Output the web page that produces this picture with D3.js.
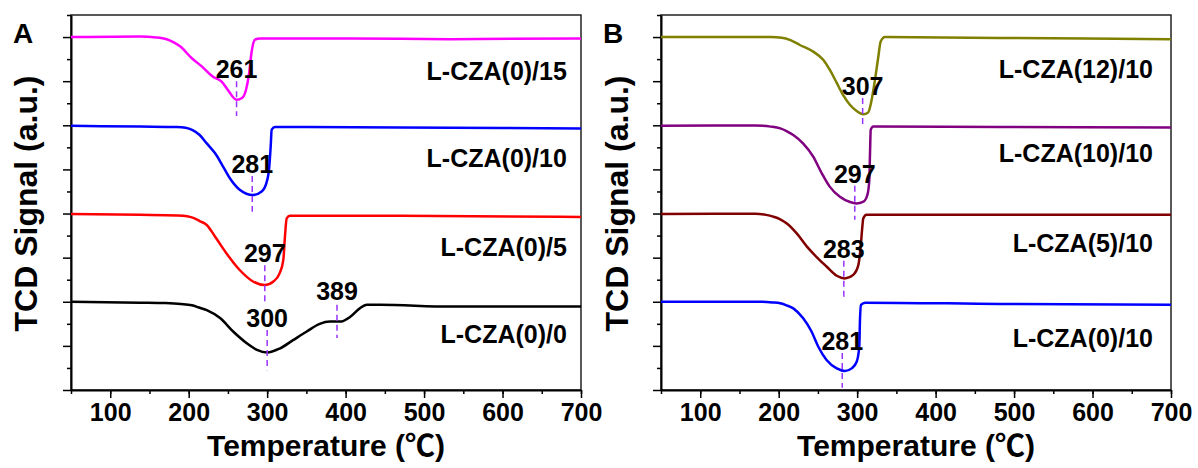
<!DOCTYPE html>
<html>
<head>
<meta charset="utf-8">
<script src="https://cdn.jsdelivr.net/npm/d3@7"></script>
<style>
body { margin: 0; background: #fff; }
text { font-family: "Liberation Sans", Arial, "Noto Sans CJK SC", sans-serif; font-weight: bold; fill: #000; }
</style>
</head>
<body>
<div id="chart"></div>
<script>
// Data: [temperature (C), TCD signal (a.u., offset per curve)]
const czaA15 = [[50,8.0],[138,8.01],[152,8.0],[163,7.985],[172,7.95],[181,7.88],[189,7.79],[204,7.52],[217,7.33],[231,7.10],[242,6.99],[250,6.80],[261,6.58],[268,6.62],[273,6.80],[277,7.18],[280,7.64],[284.5,7.94],[291,7.97],[406,7.97],[533,7.95],[700,7.97]];
const czaA10 = [[50,5.99],[138,5.97],[185,5.96],[196,5.945],[205,5.89],[214,5.78],[223,5.59],[233.5,5.37],[244,5.06],[252.5,4.80],[265,4.54],[282,4.42],[293,4.50],[299,4.69],[302.7,5.06],[304.5,5.52],[305.8,5.90],[310,5.96],[469,5.95],[700,5.93]];
const czaA5 = [[50,3.99],[138,3.97],[185,3.955],[198,3.94],[206,3.90],[214,3.83],[223,3.74],[233.5,3.48],[248,3.10],[265,2.72],[282,2.46],[297,2.38],[308,2.46],[316,2.65],[320.6,2.95],[322.7,3.48],[324.9,3.89],[329,3.95],[469,3.95],[700,3.92]];
const czaA0 = [[50,2.0],[138,1.98],[170,1.97],[190,1.95],[204,1.92],[213,1.87],[223,1.81],[240,1.63],[257,1.32],[274,1.06],[287,0.91],[300,0.85],[316,0.94],[333,1.13],[350,1.32],[367,1.50],[380,1.55],[393,1.55],[406,1.66],[418,1.85],[427,1.93],[444,1.93],[533,1.89],[700,1.89]];

const czaB12 = [[50,8.0],[190,8.0],[204,7.985],[215,7.93],[227,7.82],[244,7.67],[257,7.48],[265,7.26],[274,6.96],[282,6.69],[291,6.46],[299,6.33],[307.8,6.25],[314,6.29],[318.5,6.58],[322.7,7.03],[327,7.56],[330,7.90],[335.5,8.0],[482,7.98],[700,7.95]];
const czaB10 = [[50,5.99],[170,5.995],[190,5.97],[202,5.93],[210,5.87],[218.6,5.78],[231,5.59],[244,5.29],[255,4.91],[265,4.61],[278,4.38],[291,4.26],[299,4.23],[308,4.27],[313,4.42],[315.5,4.76],[316.4,5.37],[317.3,5.90],[320.6,5.97],[482,5.96],[700,5.95]];
const czaB5 = [[50,3.99],[170,3.995],[184,3.97],[193,3.93],[202,3.87],[210,3.78],[223,3.55],[236,3.25],[248,3.02],[261,2.80],[274,2.59],[284,2.53],[295,2.61],[301.5,2.83],[304.5,3.25],[306.6,3.70],[307.8,3.89],[312,3.97],[482,3.97],[700,3.97]];
const czaB0 = [[50,2.0],[176,2.0],[192,1.985],[202,1.965],[210,1.92],[218.6,1.85],[231,1.63],[242,1.32],[250.5,0.98],[261,0.68],[274,0.49],[284.5,0.43],[293,0.49],[299.4,0.64],[302.7,0.98],[303.6,1.59],[304.9,1.93],[310,1.98],[482,1.95],[700,1.93]];

const labelsA = ["L-CZA(0)/15", "L-CZA(0)/10", "L-CZA(0)/5", "L-CZA(0)/0"];
const labelsB = ["L-CZA(12)/10", "L-CZA(10)/10", "L-CZA(5)/10", "L-CZA(0)/10"];
const peaksA = [261, 281, 297, 300, 389];
const peaksB = [307, 297, 283, 281];
const xTicks = [100, 200, 300, 400, 500, 600, 700];

const width = 1198, height = 468;
const svg = d3.select("#chart").append("svg")
    .attr("width", width)
    .attr("height", height);

// Layout (value units on y): label baseline, and peak text / dashed line extents
const panels = [
    {
        letter: "A", left: 71, titleX: 37,
        series: [czaA15, czaA10, czaA5, czaA0],
        colors: ["#ff00ff", "#0000ff", "#ff0000", "#000000"],
        labels: labelsA, labelY: [7.03, 5.06, 3.03, 1.07], labelT: 682,
        peaks: peaksA,
        peakPos: [[7.075, 7.0, 6.21], [4.92, 4.85, 4.04], [2.90, 2.83, 1.97], [1.43, 1.36, 0.45], [2.04, 1.93, 1.18]]
    },
    {
        letter: "B", left: 661, titleX: 628,
        series: [czaB12, czaB10, czaB5, czaB0],
        colors: ["#808000", "#800080", "#800000", "#0000ff"],
        labels: labelsB, labelY: [7.075, 5.17, 3.13, 0.975], labelT: 677,
        peaks: peaksB,
        peakPos: [[6.69, 6.62, 6.01], [4.69, 4.63, 3.86], [2.99, 2.93, 2.11], [0.91, 0.84, 0.05]]
    }
];

const plotW = 510, plotTop = 15, plotBottom = 390;

panels.forEach(p => {
    let x = d3.scaleLinear().domain([50, 700]).range([p.left, p.left + plotW]);
    let y = d3.scaleLinear().domain([0, 8.5]).range([plotBottom, plotTop]);
    let g = svg.append("g");

    // Frame
    g.append("rect")
        .attr("x", p.left).attr("y", plotTop)
        .attr("width", plotW).attr("height", plotBottom - plotTop)
        .attr("fill", "none").attr("stroke", "#222").attr("stroke-width", 1.5);

    // X axis: minor + major
    g.append("g")
        .attr("transform", "translate(0," + plotBottom + ")")
        .call(d3.axisBottom(x).tickValues(d3.range(50, 701, 50)).tickSize(4).tickFormat(""))
        .call(a => a.select(".domain").remove())
        .selectAll("line").attr("stroke-width", 1.5);
    let xa = g.append("g")
        .attr("transform", "translate(0," + plotBottom + ")")
        .call(d3.axisBottom(x).tickValues(xTicks).tickSize(8).tickSizeOuter(0));
    xa.select(".domain").attr("stroke-width", 2);
    xa.selectAll("line").attr("stroke-width", 1.5);
    xa.selectAll("text")
        .attr("y", 31).attr("dy", null)
        .style("font-size", "25px");

    // Y axis: minor + major, no labels
    g.append("g")
        .attr("transform", "translate(" + p.left + ",0)")
        .call(d3.axisLeft(y).tickValues(d3.range(0.5, 8.6, 1)).tickSize(4).tickFormat(""))
        .call(a => a.select(".domain").remove())
        .selectAll("line").attr("stroke-width", 1.5);
    let ya = g.append("g")
        .attr("transform", "translate(" + p.left + ",0)")
        .call(d3.axisLeft(y).tickValues(d3.range(0, 9, 1)).tickSize(8).tickSizeOuter(0).tickFormat(""));
    ya.select(".domain").attr("stroke-width", 2);
    ya.selectAll("line").attr("stroke-width", 1.5);

    // Curves
    let line = d3.line()
        .x(d => x(d[0]))
        .y(d => y(d[1]))
        .curve(d3.curveMonotoneX);
    p.series.forEach((s, i) => {
        g.append("path")
            .datum(s)
            .attr("fill", "none")
            .attr("stroke", p.colors[i])
            .attr("stroke-width", 2.5)
            .attr("d", line);
        g.append("text")
            .attr("x", x(p.labelT))
            .attr("y", y(p.labelY[i]))
            .attr("text-anchor", "end")
            .style("font-size", "25px")
            .text(p.labels[i]);
    });

    // Peak annotations
    p.peaks.forEach((t, i) => {
        let pos = p.peakPos[i];
        g.append("line")
            .attr("x1", x(t)).attr("x2", x(t))
            .attr("y1", y(pos[1])).attr("y2", y(pos[2]))
            .attr("stroke", "#9933ff")
            .attr("stroke-width", 1.5)
            .attr("stroke-dasharray", "6,4");
        g.append("text")
            .attr("x", x(t))
            .attr("y", y(pos[0]))
            .attr("text-anchor", "middle")
            .style("font-size", "25px")
            .text(t);
    });

    // Titles
    g.append("text")
        .attr("x", p.left + plotW / 2)
        .attr("y", 456)
        .attr("text-anchor", "middle")
        .style("font-size", "30px")
        .text("Temperature (\u2103)");
    g.append("text")
        .attr("transform", "translate(" + p.titleX + "," + 203.5 + ") rotate(-90)")
        .attr("text-anchor", "middle")
        .style("font-size", "32px")
        .text("TCD Signal (a.u.)");

    // Panel letter
    g.append("text")
        .attr("x", p.left - 58)
        .attr("y", 43)
        .style("font-size", "28px")
        .text(p.letter);
});
</script>
</body>
</html>
